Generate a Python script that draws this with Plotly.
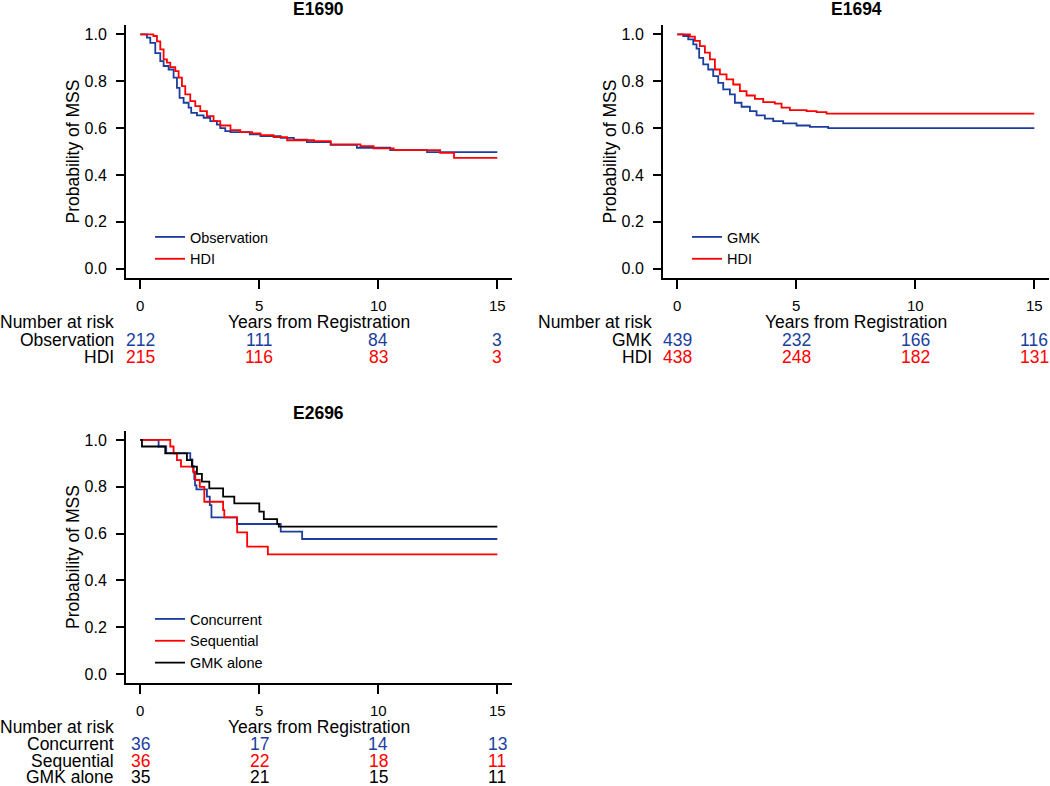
import plotly.graph_objects as go

W, H = 1050, 786
FONT = "Liberation Sans, Arial, sans-serif"
BLUE = "#1B3E9E"
RED = "#FF0000"
BLACK = "#000000"

# ---------------- data ----------------
# E1690
e1690_obs_t = [0, 0.28, 0.42, 0.63, 0.84, 0.98, 1.19, 1.40, 1.54, 1.65, 1.82, 2.03, 2.14, 2.38, 2.66, 2.94, 3.22, 3.36, 3.57, 3.79, 4.6, 5.05, 5.9, 6.45, 7.0, 8.0, 9.1, 10.5, 12.05, 15]
e1690_obs_s = [1.0, 0.986, 0.964, 0.92, 0.886, 0.865, 0.85, 0.815, 0.772, 0.729, 0.708, 0.687, 0.665, 0.654, 0.644, 0.63, 0.615, 0.60, 0.587, 0.583, 0.573, 0.566, 0.558, 0.551, 0.54, 0.528, 0.516, 0.506, 0.497, 0.497]
e1690_hdi_t = [0, 0.55, 0.7, 0.84, 0.98, 1.12, 1.26, 1.47, 1.61, 1.75, 1.89, 2.10, 2.31, 2.52, 2.80, 3.08, 3.36, 3.79, 4.2, 4.7, 5.05, 5.6, 6.17, 7.3, 8.0, 9.25, 9.8, 10.65, 12.6, 13.18, 15]
e1690_hdi_s = [1.0, 0.993, 0.97, 0.936, 0.893, 0.879, 0.86, 0.843, 0.815, 0.779, 0.744, 0.715, 0.694, 0.672, 0.651, 0.63, 0.611, 0.591, 0.583, 0.577, 0.57, 0.561, 0.548, 0.544, 0.53, 0.523, 0.513, 0.506, 0.494, 0.473, 0.473]

# E1694
e1694_gmk_t = [0, 0.25, 0.46, 0.67, 0.81, 0.92, 1.09, 1.30, 1.51, 1.72, 1.93, 2.21, 2.42, 2.70, 3.05, 3.33, 3.68, 4.03, 4.45, 5.01, 5.57, 6.34, 15]
e1694_gmk_s = [1.0, 0.993, 0.979, 0.957, 0.939, 0.90, 0.872, 0.85, 0.822, 0.793, 0.765, 0.744, 0.708, 0.691, 0.672, 0.654, 0.64, 0.63, 0.62, 0.611, 0.605, 0.60, 0.60]
e1694_hdi_t = [0, 0.53, 0.74, 0.95, 1.16, 1.37, 1.58, 1.79, 2.07, 2.35, 2.63, 2.91, 3.26, 3.61, 4.10, 4.38, 4.73, 5.43, 5.85, 6.27, 15]
e1694_hdi_s = [1.0, 0.99, 0.972, 0.95, 0.922, 0.893, 0.85, 0.829, 0.808, 0.786, 0.758, 0.739, 0.725, 0.711, 0.704, 0.687, 0.677, 0.672, 0.668, 0.662, 0.662]

# E2696
e2696_con_t = [0, 0.77, 1.09, 2.10, 2.19, 2.24, 2.27, 2.30, 2.36, 2.80, 2.92, 2.99, 4.06, 5.90, 6.80, 15]
e2696_con_s = [1.0, 0.972, 0.944, 0.917, 0.889, 0.861, 0.833, 0.806, 0.789, 0.758, 0.722, 0.669, 0.641, 0.608, 0.577, 0.577]
e2696_seq_t = [0, 1.26, 1.40, 1.54, 1.71, 2.22, 2.31, 2.50, 2.69, 3.48, 3.53, 4.07, 4.49, 5.36, 15]
e2696_seq_s = [1.0, 0.972, 0.943, 0.914, 0.886, 0.865, 0.829, 0.80, 0.736, 0.70, 0.669, 0.605, 0.544, 0.511, 0.511]
e2696_gmk_t = [0, 0.07, 1.05, 1.96, 2.17, 2.38, 2.59, 2.90, 3.48, 3.95, 5.0, 5.19, 5.75, 5.82, 15]
e2696_gmk_s = [1.0, 0.972, 0.943, 0.914, 0.886, 0.855, 0.822, 0.793, 0.758, 0.729, 0.694, 0.662, 0.641, 0.63, 0.63]

# risk tables
risk_times = [0, 5, 10, 15]
e1690_groups = ["Observation", "HDI"]
e1690_risk = [[212, 111, 84, 3], [215, 116, 83, 3]]
e1694_groups = ["GMK", "HDI"]
e1694_risk = [[439, 232, 166, 116], [438, 248, 182, 131]]
e2696_groups = ["Concurrent", "Sequential", "GMK alone"]
e2696_risk = [[36, 17, 14, 13], [36, 22, 18, 11], [35, 21, 15, 11]]

titles = ["E1690", "E1694", "E2696"]
x_ticks = [0, 5, 10, 15]
y_ticks = [0, 0.2, 0.4, 0.6, 0.8, 1.0]

# ---------------- layout helpers ----------------
def px_x(p):
    return p / W

def px_y(p):
    return 1 - p / H

fig = go.Figure()

panels = [
    # (axis suffix, x domain px, y domain px (top,bottom))
    ("", (126, 511.6), (25, 278)),
    ("2", (663, 1048.6), (25, 278)),
    ("3", (126, 511.6), (430.6, 683.4)),
]

def add_curve(t, s, color, name, ax, legend):
    fig.add_trace(go.Scatter(
        x=t, y=s, mode="lines", line=dict(color=color, width=1.8, shape="hv"),
        name=name, xaxis="x" + ax, yaxis="y" + ax, legend=legend,
        showlegend=True, hoverinfo="skip"))

add_curve(e1690_obs_t, e1690_obs_s, BLUE, "Observation", "", "legend")
add_curve(e1690_hdi_t, e1690_hdi_s, RED, "HDI", "", "legend")
add_curve(e1694_gmk_t, e1694_gmk_s, BLUE, "GMK", "2", "legend2")
add_curve(e1694_hdi_t, e1694_hdi_s, RED, "HDI", "2", "legend2")
add_curve(e2696_con_t, e2696_con_s, BLUE, "Concurrent", "3", "legend3")
add_curve(e2696_seq_t, e2696_seq_s, RED, "Sequential", "3", "legend3")
add_curve(e2696_gmk_t, e2696_gmk_s, BLACK, "GMK alone", "3", "legend3")

TXT = 17.5

layout = dict(
    width=W, height=H, margin=dict(l=0, r=0, t=0, b=0),
    paper_bgcolor="white", plot_bgcolor="white",
    font=dict(family=FONT, color="black", size=TXT),
    showlegend=True,
)

for suf, (x0, x1), (ytop, ybot) in panels:
    layout["xaxis" + suf] = dict(
        domain=[px_x(x0), px_x(x1)], range=[-0.6, 15.6], anchor="y" + suf,
        tickmode="array", tickvals=x_ticks, ticks="outside", ticklen=9,
        tickwidth=1.5, tickcolor="black", showline=True, linewidth=2,
        linecolor="black", showgrid=False, zeroline=False,
        tickfont=dict(size=15, family=FONT), ticklabelstandoff=4,
        fixedrange=True)
    layout["yaxis" + suf] = dict(
        domain=[px_y(ybot), px_y(ytop)], range=[-0.04, 1.04], anchor="x" + suf,
        tickmode="array", tickvals=y_ticks, tickformat=".1f", ticks="outside",
        ticklen=8, tickwidth=1.5, tickcolor="black", showline=True,
        linewidth=2, linecolor="black", showgrid=False, zeroline=False,
        tickfont=dict(size=16, family=FONT), ticklabelstandoff=6,
        title=dict(text="Probability of MSS", font=dict(size=TXT, family=FONT), standoff=0),
        automargin=False, fixedrange=True)

leg_common = dict(bgcolor="rgba(0,0,0,0)", borderwidth=0, font=dict(size=14.5, family=FONT),
                  xanchor="left", yanchor="top", tracegroupgap=0, itemclick=False,
                  itemdoubleclick=False)
layout["legend"] = dict(x=px_x(150), y=px_y(221), **leg_common)
layout["legend2"] = dict(x=px_x(687), y=px_y(221), **leg_common)
layout["legend3"] = dict(x=px_x(150), y=px_y(603), **leg_common)

fig.update_layout(**layout)

ann = []
# titles
for txt, cx, cy in [(titles[0], 318, 9), (titles[1], 856, 9), (titles[2], 318, 413)]:
    ann.append(dict(text="<b>" + txt + "</b>", x=px_x(cx), y=px_y(cy), xref="paper", yref="paper",
                    xanchor="center", yanchor="middle", showarrow=False, font=dict(size=TXT)))

def risk_table(groups, counts, colors, xref, label_right_px, header_y, row_ys):
    ann.append(dict(text="Number at risk", x=px_x(label_right_px), y=px_y(header_y),
                    xref="paper", yref="paper", xanchor="right", yanchor="middle",
                    showarrow=False, font=dict(size=TXT)))
    ann.append(dict(text="Years from Registration", x=7.5, y=px_y(header_y), xref=xref,
                    yref="paper", xanchor="center", yanchor="middle", showarrow=False,
                    font=dict(size=TXT)))
    for g, row, col, ry in zip(groups, counts, colors, row_ys):
        ann.append(dict(text=g, x=px_x(label_right_px), y=px_y(ry), xref="paper", yref="paper",
                        xanchor="right", yanchor="middle", showarrow=False, font=dict(size=TXT)))
        for t, n in zip(risk_times, row):
            ann.append(dict(text=str(n), x=t, y=px_y(ry), xref=xref, yref="paper",
                            xanchor="center", yanchor="middle", showarrow=False,
                            font=dict(size=TXT, color=col)))

risk_table(e1690_groups, e1690_risk, [BLUE, RED], "x", 116, 322, [340, 357])
risk_table(e1694_groups, e1694_risk, [BLUE, RED], "x2", 654, 322, [340, 357])
risk_table(e2696_groups, e2696_risk, [BLUE, RED, BLACK], "x3", 116, 727, [744, 761, 777])

fig.update_layout(annotations=ann)
fig.write_html("out.html",
               config={"displayModeBar": False},
               post_script="document.body.style.margin='0';document.body.style.overflow='hidden';")
